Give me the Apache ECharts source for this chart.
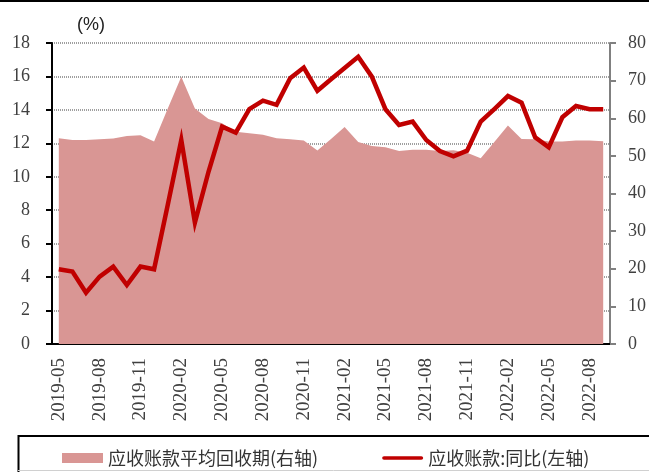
<!DOCTYPE html>
<html>
<head>
<meta charset="utf-8">
<script src="https://cdn.jsdelivr.net/npm/echarts@6/dist/echarts.min.js"></script>
<style>
  html, body { margin: 0; padding: 0; background: #fff; }
  #chart { width: 649px; height: 472px; }
</style>
</head>
<body>
<div id="chart"></div>
<script>
// 月份
const months = [
  '2019-05', '2019-06', '2019-07', '2019-08', '2019-09', '2019-10', '2019-11', '2019-12',
  '2020-01', '2020-02', '2020-03', '2020-04', '2020-05', '2020-06', '2020-07', '2020-08',
  '2020-09', '2020-10', '2020-11', '2020-12', '2021-01', '2021-02', '2021-03', '2021-04',
  '2021-05', '2021-06', '2021-07', '2021-08', '2021-09', '2021-10', '2021-11', '2021-12',
  '2022-01', '2022-02', '2022-03', '2022-04', '2022-05', '2022-06', '2022-07', '2022-08',
  '2022-09'
];

// 应收账款平均回收期(右轴)
const collectionDays = [
  54.7, 54.2, 54.2, 54.4, 54.6, 55.3, 55.5, 53.8,
  62.5, 71.0, 62.6, 59.8, 58.7, 56.4, 56.0, 55.6,
  54.7, 54.4, 54.1, 51.4, 54.5, 57.7, 53.7, 52.6,
  52.3, 51.3, 51.6, 51.6, 51.3, 51.5, 50.8, 49.4,
  53.7, 58.1, 54.5, 54.4, 53.8, 53.8, 54.1, 54.1,
  53.9
];

// 应收账款:同比(左轴)
const receivableYoy = [
  4.47, 4.33, 3.07, 4.03, 4.63, 3.53, 4.63, 4.47,
  8.3, 12.2, 7.26, 10.3, 13.0, 12.64, 14.05, 14.55,
  14.3, 15.89, 16.53, 15.14, 15.83, 16.5, 17.18, 15.99,
  14.04, 13.1, 13.3, 12.2, 11.54, 11.22, 11.56, 13.3,
  14.05, 14.83, 14.43, 12.36, 11.76, 13.56, 14.23, 14.04,
  14.04
];

const serifFont = '"Liberation Serif", "DejaVu Serif", serif';
const cjkFont = '"Noto Sans CJK SC", sans-serif';

var myChart = echarts.init(document.getElementById('chart'));

var option = {
  animation: false,
  grid: {
    left: 52,
    right: 38,
    top: 43,
    bottom: 128
  },
  legend: {
    left: 57,
    top: 444,
    itemWidth: 41,
    itemHeight: 10,
    itemGap: 64,
    textStyle: {
      fontFamily: cjkFont,
      fontSize: 18,
      color: '#333'
    },
    data: [
      { name: '应收账款平均回收期(右轴)', icon: 'rect' },
      { name: '应收账款:同比(左轴)', icon: 'path://M2,0H43A2,2 0 0 1 43,4H2A2,2 0 0 1 2,0Z' }
    ]
  },
  graphic: [
    {
      type: 'line',
      shape: { x1: 0, y1: 1, x2: 649, y2: 1 },
      style: { stroke: '#000', lineWidth: 2 }
    },
    {
      type: 'polyline',
      shape: { points: [[18.5, 472], [18.5, 436], [649, 436]] },
      style: { fill: 'none', stroke: '#000', lineWidth: 2 },
      z: 100
    },
    {
      type: 'line',
      shape: { x1: 18, y1: 470.5, x2: 649, y2: 470.5 },
      style: { stroke: '#d0d0d0', lineWidth: 1 },
      z: 100
    },
    {
      type: 'text',
      left: 77,
      top: 16,
      style: {
        text: '(%)',
        font: '18px "Liberation Sans", Arial, sans-serif',
        fill: '#222'
      }
    }
  ],
  xAxis: {
    type: 'category',
    data: months,
    boundaryGap: true,
    axisLine: { lineStyle: { color: '#000', width: 2 } },
    axisTick: {
      interval: 2,
      length: 6,
      lineStyle: { color: '#000', width: 2 }
    },
    axisLabel: {
      interval: 2,
      rotate: 90,
      margin: 14,
      fontFamily: serifFont,
      fontSize: 19,
      color: '#404040'
    }
  },
  yAxis: [
    {
      type: 'value',
      min: 0,
      max: 18,
      interval: 2,
      axisLine: { show: true, lineStyle: { color: '#000', width: 2 } },
      axisTick: { show: true, length: 6, lineStyle: { color: '#000', width: 2 } },
      axisLabel: {
        margin: 22,
        fontFamily: serifFont,
        fontSize: 18,
        color: '#404040'
      },
      splitLine: {
        show: true,
        lineStyle: { color: '#808080', type: [1, 1], width: 1.5 }
      }
    },
    {
      type: 'value',
      min: 0,
      max: 80,
      interval: 10,
      position: 'right',
      axisLine: { show: true, lineStyle: { color: '#808080', width: 2 } },
      axisTick: { show: true, length: 6, lineStyle: { color: '#808080', width: 2 } },
      axisLabel: {
        margin: 18,
        fontFamily: serifFont,
        fontSize: 18,
        color: '#404040'
      },
      splitLine: { show: false }
    }
  ],
  series: [
    {
      name: '应收账款平均回收期(右轴)',
      type: 'line',
      yAxisIndex: 1,
      data: collectionDays,
      symbol: 'none',
      lineStyle: { width: 0 },
      itemStyle: { color: '#d99694' },
      areaStyle: { color: '#d99694', opacity: 1 },
      z: 1
    },
    {
      name: '应收账款:同比(左轴)',
      type: 'line',
      yAxisIndex: 0,
      data: receivableYoy,
      symbol: 'none',
      lineStyle: { color: '#c00000', width: 4.5, join: 'miter' },
      itemStyle: { color: '#c00000' },
      z: 3
    }
  ]
};

myChart.setOption(option);
</script>
</body>
</html>
